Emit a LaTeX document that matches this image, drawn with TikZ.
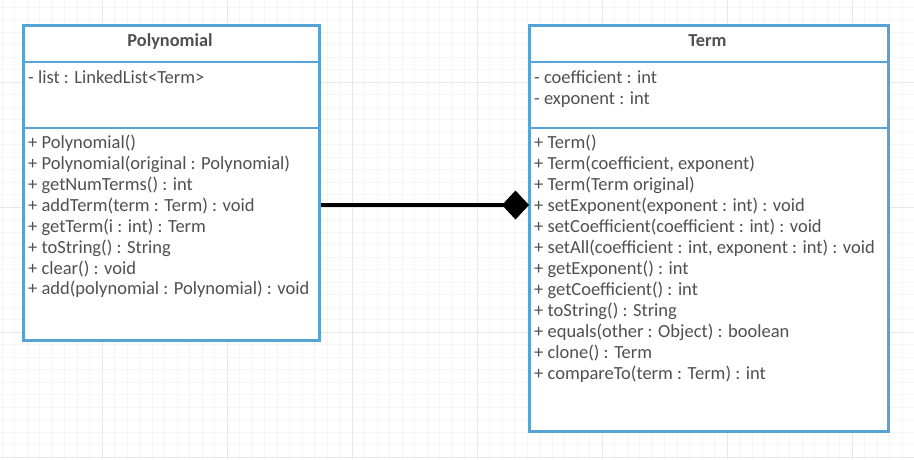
\documentclass[tikz,border=0pt]{standalone}
\usepackage{fontspec}
\setmainfont{Carlito}
\usetikzlibrary{arrows.meta}
\definecolor{umlblue}{RGB}{86,164,214}
\definecolor{umltext}{RGB}{80,80,80}
\definecolor{gridminor}{RGB}{245,245,245}
\definecolor{gridmajor}{RGB}{232,232,232}
\tikzset{
  classbox/.style={draw=umlblue, line width=2.6pt, fill=white, rectangle, inner sep=0pt, anchor=north west},
  divider/.style={draw=umlblue, line width=2.6pt},
  header/.style={font=\fontsize{18.3}{22}\selectfont\bfseries, text=umltext, anchor=base},
  member/.style={font=\fontsize{18.5}{22}\selectfont, text=umltext, anchor=base west, inner sep=0pt},
  comp/.style={line width=4pt, draw=black, -{Diamond[length=27pt, width=29pt, line width=0pt]}, shorten >=-1pt}
}
\begin{document}
\begin{tikzpicture}[x=1pt, y=-1pt]
\useasboundingbox (0,0) rectangle (914,459);
\fill[white] (0,0) rectangle (914,459);
% grid
\foreach \i in {0,...,73} {
  \draw[gridminor, line width=0.8pt] ({2.3+12.5*\i},0) -- ({2.3+12.5*\i},459);
}
\foreach \j in {0,...,36} {
  \draw[gridminor, line width=0.8pt] (0,{7.3+12.5*\j}) -- (914,{7.3+12.5*\j});
}
\foreach \i in {0,...,7} {
  \draw[gridmajor, line width=0.8pt] ({102.3+125*\i-125},0) -- ({102.3+125*\i-125},459);
}
\foreach \j in {0,...,3} {
  \draw[gridmajor, line width=0.8pt] (0,{82.3+125*\j}) -- (914,{82.3+125*\j});
}

% Polynomial class
\node[classbox, minimum width=296pt, minimum height=315pt] (poly) at (22,24) {};
\draw[divider] (22,62) -- (318,62);
\draw[divider] (22,128) -- (318,128);
\node[header] (polyname) at (170,46) {Polynomial};
\node[member] (pa1) at (28,83) {- list : LinkedList<Term>};
\node[member] (pm1) at (28,148) {+ Polynomial()};
\node[member] (pm2) at (28,169) {+ Polynomial(original : Polynomial)};
\node[member] (pm3) at (28,190) {+ getNumTerms() : int};
\node[member] (pm4) at (28,211) {+ addTerm(term : Term) : void};
\node[member] (pm5) at (28,232) {+ getTerm(i : int) : Term};
\node[member] (pm6) at (28,253) {+ toString() : String};
\node[member] (pm7) at (28,274) {+ clear() : void};
\node[member] (pm8) at (28,294) {+ add(polynomial : Polynomial) : void};

% Term class
\node[classbox, minimum width=359pt, minimum height=406pt] (term) at (528,24) {};
\draw[divider] (528,62) -- (887,62);
\draw[divider] (528,128) -- (887,128);
\node[header] (termname) at (707.5,46) {Term};
\node[member] (ta1) at (534,83) {- coefficient : int};
\node[member] (ta2) at (534,104) {- exponent : int};
\node[member] (tm1) at (534,148) {+ Term()};
\node[member] (tm2) at (534,169) {+ Term(coefficient, exponent)};
\node[member] (tm3) at (534,190) {+ Term(Term original)};
\node[member] (tm4) at (534,211) {+ setExponent(exponent : int) : void};
\node[member] (tm5) at (534,232) {+ setCoefficient(coefficient : int) : void};
\node[member] (tm6) at (534,253) {+ setAll(coefficient : int, exponent : int) : void};
\node[member] (tm7) at (534,274) {+ getExponent() : int};
\node[member] (tm8) at (534,295) {+ getCoefficient() : int};
\node[member] (tm9) at (534,316) {+ toString() : String};
\node[member] (tm10) at (534,337) {+ equals(other : Object) : boolean};
\node[member] (tm11) at (534,358) {+ clone() : Term};
\node[member] (tm12) at (534,379) {+ compareTo(term : Term) : int};

% composition
\coordinate (cy) at (0,205);
\draw[comp] (poly.east |- cy) -- (term.west |- cy);
\end{tikzpicture}
\end{document}
